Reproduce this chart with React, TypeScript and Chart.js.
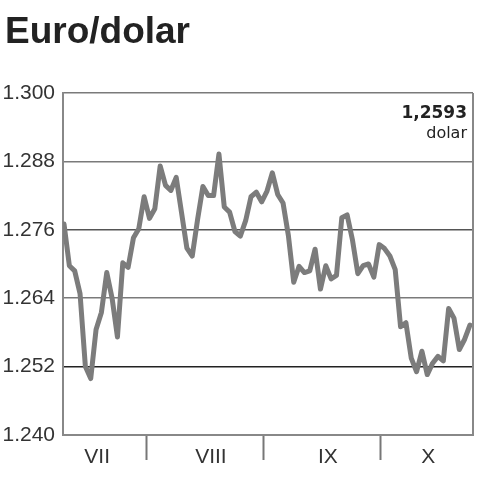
import React, { useEffect, useRef } from "react";
import { Chart, registerables } from "chart.js";

Chart.register(...registerables);

const title = "Euro/dolar";
const lastValueLabel = "1,2593";
const unitLabel = "dolar";

const days: number[] = Array.from({ length: 77 }, (_, i) => i);
const rates: number[] = [
  1.277, 1.2697, 1.2688, 1.2648, 1.252, 1.2499, 1.2585, 1.2615, 1.2685, 1.264,
  1.2572, 1.2702, 1.2694, 1.2746, 1.2762, 1.2818, 1.278, 1.2797, 1.2872, 1.2838,
  1.2829, 1.2852, 1.279, 1.2728, 1.2714, 1.2778, 1.2836, 1.282, 1.282, 1.2893,
  1.28, 1.2791, 1.2757, 1.2749, 1.2776, 1.2818, 1.2826, 1.2809, 1.2828, 1.286,
  1.2822, 1.2807, 1.275, 1.2668, 1.2696, 1.2685, 1.2688, 1.2726, 1.2656, 1.2697,
  1.2674, 1.268, 1.2781, 1.2786, 1.2742, 1.2683, 1.2697, 1.27, 1.2677, 1.2734,
  1.2727, 1.2714, 1.269, 1.259, 1.2597, 1.2535, 1.2511, 1.2547, 1.2506, 1.2526,
  1.2538, 1.253, 1.2622, 1.2605, 1.255, 1.2568, 1.2593,
];

const yTicks: number[] = [1.24, 1.252, 1.264, 1.276, 1.288, 1.3];
const monthLabels: string[] = ["VII", "VIII", "IX", "X"];
const monthLabelPos: number[] = [6.2, 27.5, 49.4, 68.2];
const monthBoundaries: number[] = [15.4, 37.3, 59.2];

const near = (a: number, b: number) => Math.abs(a - b) < 1e-6;

const decorPlugin = {
  id: "decor",
  afterDraw(chart: any) {
    const { ctx, chartArea } = chart;
    ctx.save();
    ctx.strokeStyle = "#888";
    ctx.lineWidth = 2;
    ctx.beginPath();
    ctx.moveTo(chartArea.right, chartArea.top);
    ctx.lineTo(chartArea.right, chartArea.bottom);
    ctx.stroke();
    ctx.fillStyle = "#222";
    ctx.font = "bold 37px 'Liberation Sans', Arial, sans-serif";
    ctx.textAlign = "left";
    ctx.textBaseline = "alphabetic";
    ctx.fillText(title, 5, 43);
    ctx.textAlign = "right";
    ctx.fillStyle = "#222";
    ctx.font = "bold 17px 'DejaVu Sans', sans-serif";
    ctx.fillText(lastValueLabel, chartArea.right - 6, 118);
    ctx.font = "16px 'DejaVu Sans', sans-serif";
    ctx.fillText(unitLabel, chartArea.right - 6, 138);
    ctx.restore();
  },
};

export default function App() {
  const ref = useRef<HTMLCanvasElement | null>(null);
  useEffect(() => {
    document.body.style.margin = "0";
    const canvas = ref.current;
    if (!canvas) return;
    const chart = new Chart(canvas, {
      type: "line",
      data: {
        datasets: [
          {
            data: days.map((d, i) => ({ x: d, y: rates[i] })),
            borderColor: "#7c7c7c",
            borderWidth: 5,
            pointRadius: 0,
            tension: 0,
            borderJoinStyle: "round",
            borderCapStyle: "round",
            fill: false,
          },
        ],
      },
      options: {
        animation: false,
        responsive: false,
        maintainAspectRatio: false,
        layout: { padding: { top: 93, right: 9, left: 0, bottom: 0 } },
        plugins: {
          legend: { display: false },
          tooltip: { enabled: false },
          title: { display: false },
        },
        scales: {
          x: {
            type: "linear",
            min: -0.19,
            max: 76.56,
            afterBuildTicks: (scale: any) => {
              const vals = [...monthLabelPos, ...monthBoundaries].sort((a, b) => a - b);
              scale.ticks = vals.map((v) => ({ value: v }));
            },
            afterFit: (scale: any) => {
              scale.height = 45;
            },
            ticks: {
              autoSkip: false,
              maxRotation: 0,
              padding: -15,
              color: "#333",
              font: { family: "'Liberation Sans', Arial, sans-serif", size: 21 },
              callback: (value: any) => {
                const idx = monthLabelPos.findIndex((p) => near(p, Number(value)));
                return idx >= 0 ? monthLabels[idx] : "";
              },
            },
            grid: {
              drawOnChartArea: false,
              drawTicks: true,
              tickLength: 25,
              tickWidth: 2,
              color: (ctx: any) =>
                ctx.tick && monthBoundaries.some((b) => near(b, ctx.tick.value))
                  ? "#777"
                  : "rgba(0,0,0,0)",
            },
            border: { display: true, color: "#888", width: 2 },
          },
          y: {
            type: "linear",
            min: 1.24,
            max: 1.3,
            afterBuildTicks: (scale: any) => {
              scale.ticks = yTicks.map((v) => ({ value: v }));
            },
            afterFit: (scale: any) => {
              scale.width = 63;
            },
            ticks: {
              padding: 8,
              color: "#333",
              font: { family: "'Liberation Sans', Arial, sans-serif", size: 21 },
              callback: (value: any) => Number(value).toFixed(3),
            },
            grid: {
              drawTicks: false,
              lineWidth: 1.5,
              color: (ctx: any) => {
                const v = ctx.tick ? ctx.tick.value : 0;
                if (near(v, 1.252)) return "#222";
                if (near(v, 1.276)) return "#555";
                return "#7a7a7a";
              },
            },
            border: { display: true, color: "#888", width: 2 },
          },
        },
      },
      plugins: [decorPlugin],
    } as any);
    return () => chart.destroy();
  }, []);
  return (
    <div style={{ width: 482, height: 480, background: "#fff" }}>
      <canvas ref={ref} width={482} height={480} style={{ display: "block" }} />
    </div>
  );
}
